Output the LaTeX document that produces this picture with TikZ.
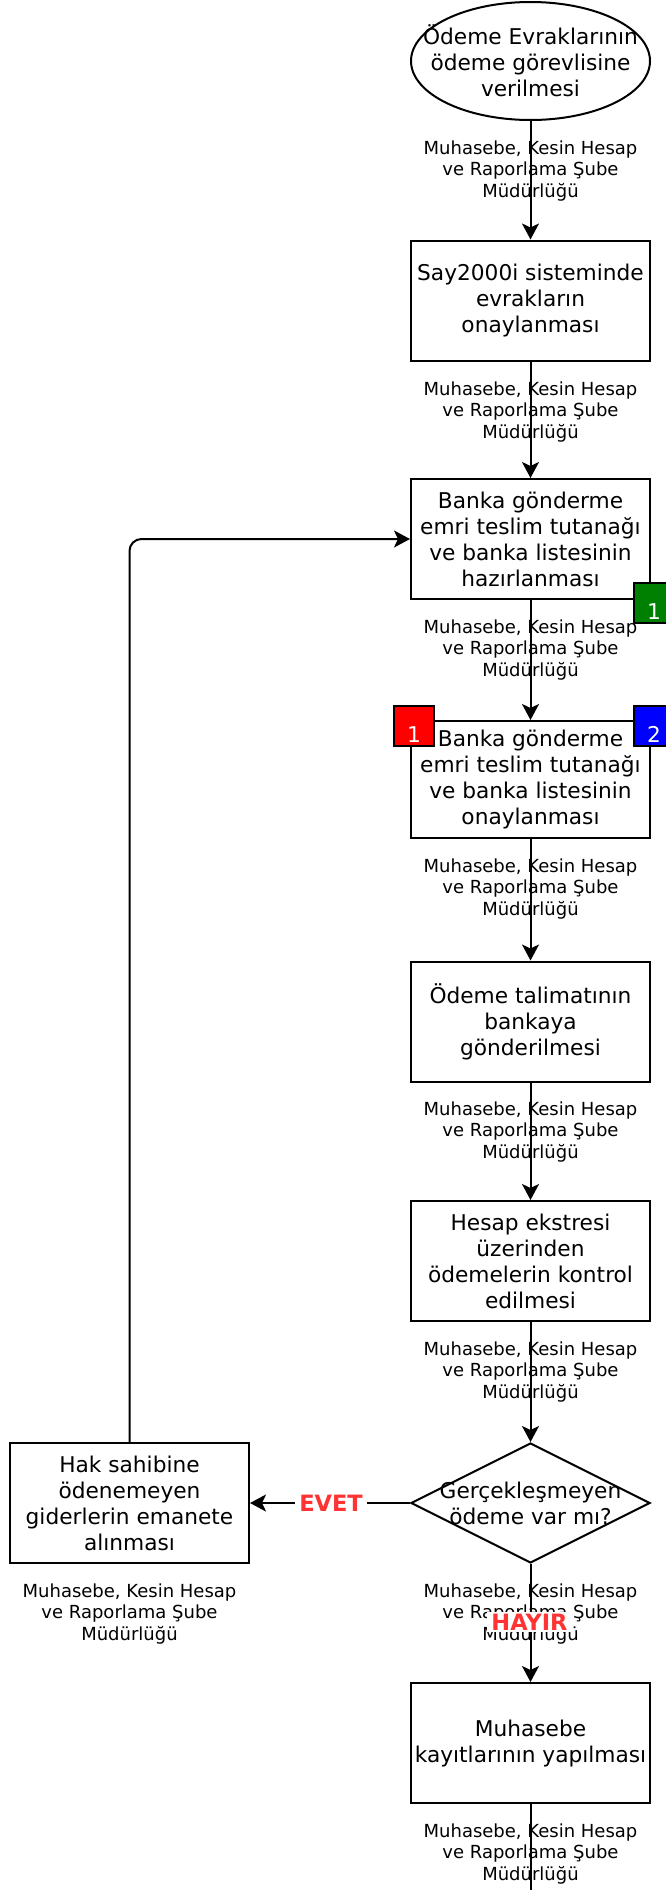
\documentclass[tikz,border=0pt]{standalone}
\usepackage{fontspec}
\setmainfont{DejaVu Sans}
\usetikzlibrary{shapes,arrows.meta,positioning}

\definecolor{TagGreen}{HTML}{008000}
\definecolor{TagRed}{HTML}{FF0000}
\definecolor{TagBlue}{HTML}{0000FF}
\definecolor{AnswerRed}{HTML}{FF3333}

\begin{document}
\begin{tikzpicture}[x=1pt,y=-1pt]
			\tikzstyle{Step}		= [rectangle, draw, line width=2pt, minimum width=239pt, minimum height=120pt, inner sep=0pt, align=center, font=\fontsize{21.7}{26}\selectfont]
			\tikzstyle{Terminal}	= [ellipse, draw, line width=2pt, minimum width=239pt, minimum height=118pt, inner sep=0pt]
			\tikzstyle{Decision}	= [diamond, draw, line width=2pt, minimum width=239pt, minimum height=120pt, inner sep=0pt]
			\tikzstyle{Text}		= [align=center, inner sep=0pt, font=\fontsize{21.7}{26}\selectfont]
			\tikzstyle{Unit}		= [align=center, inner sep=0pt, font=\fontsize{18}{21.7}\selectfont]
			\tikzstyle{Tag}			= [rectangle, draw, line width=2pt, minimum size=40pt, inner sep=0pt]
			\tikzstyle{TagNum}		= [text=white, inner sep=0pt, yshift=-9pt, font=\fontsize{21.7}{26}\selectfont]
			\tikzstyle{Answer}		= [fill=white, text=AnswerRed, inner xsep=4pt, inner ysep=2pt, font=\bfseries\fontsize{22.5}{26}\selectfont]
			\tikzstyle{Flow}		= [line width=2pt, -{Stealth[length=16pt, width=17pt, inset=4pt]}]
			\tikzstyle{Line}		= [line width=2pt]

			\useasboundingbox (0,0) rectangle (666,1890);

			% department labels under each step
			\node (u1) at (530.5,171) [Unit] {Muhasebe, Kesin Hesap\\ve Raporlama Şube\\Müdürlüğü};
			\node (u2) at (530.5,412) [Unit] {Muhasebe, Kesin Hesap\\ve Raporlama Şube\\Müdürlüğü};
			\node (u3) at (530.5,650) [Unit] {Muhasebe, Kesin Hesap\\ve Raporlama Şube\\Müdürlüğü};
			\node (u4) at (530.5,889) [Unit] {Muhasebe, Kesin Hesap\\ve Raporlama Şube\\Müdürlüğü};
			\node (u5) at (530.5,1132) [Unit] {Muhasebe, Kesin Hesap\\ve Raporlama Şube\\Müdürlüğü};
			\node (u6) at (530.5,1372) [Unit] {Muhasebe, Kesin Hesap\\ve Raporlama Şube\\Müdürlüğü};
			\node (u7) at (530.5,1614) [Unit] {Muhasebe, Kesin Hesap\\ve Raporlama Şube\\Müdürlüğü};
			\node (u8) at (129.5,1614) [Unit] {Muhasebe, Kesin Hesap\\ve Raporlama Şube\\Müdürlüğü};
			\node (u9) at (530.5,1854) [Unit] {Muhasebe, Kesin Hesap\\ve Raporlama Şube\\Müdürlüğü};

			% steps
			\node (start) at (530.5,61) [Terminal] {};
			\node (startText) at (start) [Text] {Ödeme Evraklarının\\ödeme görevlisine\\verilmesi};
			\node (say) at (530.5,300.5) [Step] {Say2000i sisteminde\\evrakların\\onaylanması};
			\node (hazir) at (530.5,539) [Step] {Banka gönderme\\emri teslim tutanağı\\ve banka listesinin\\hazırlanması};
			\node (onay) at (530.5,779.5) [Step, minimum height=117pt] {Banka gönderme\\emri teslim tutanağı\\ve banka listesinin\\onaylanması};
			\node (talimat) at (530.5,1021.5) [Step] {Ödeme talimatının\\bankaya\\gönderilmesi};
			\node (ekstre) at (530.5,1261) [Step] {Hesap ekstresi\\üzerinden\\ödemelerin kontrol\\edilmesi};
			\node (karar) at (530.5,1503) [Decision] {};
			\node (kararText) at (karar) [Text] {Gerçekleşmeyen\\ödeme var mı?};
			\node (emanet) at (129.5,1503) [Step] {Hak sahibine\\ödenemeyen\\giderlerin emanete\\alınması};
			\node (kayit) at (530.5,1743) [Step] {Muhasebe\\kayıtlarının yapılması};
			\coordinate (out) at (530.5,1895);

			% corner tags
			\node (tagA) at (654,603) [Tag, fill=TagGreen, label={[TagNum]center:1}] {};
			\node (tagB) at (414,725.5) [Tag, fill=TagRed, label={[TagNum]center:1}] {};
			\node (tagC) at (654,725.5) [Tag, fill=TagBlue, label={[TagNum]center:2}] {};

			\draw [Flow] (start) to (say);
			\draw [Flow] (say) to (hazir);
			\draw [Flow] (hazir) to (onay);
			\draw [Flow] (onay) to (talimat);
			\draw [Flow] (talimat) to (ekstre);
			\draw [Flow] (ekstre) to (karar);
			\draw [Flow] (karar) to (kayit);
			\draw [Flow] (karar) to (emanet);
			\draw [Line] (kayit) to (out);
			\draw [Flow, rounded corners=12pt] (emanet) |- (hazir);

			\node (evet) at (331,1503) [Answer] {EVET};
			\node (hayir) at (529.5,1622) [Answer] {HAYIR};
		\end{tikzpicture}
\end{document}
